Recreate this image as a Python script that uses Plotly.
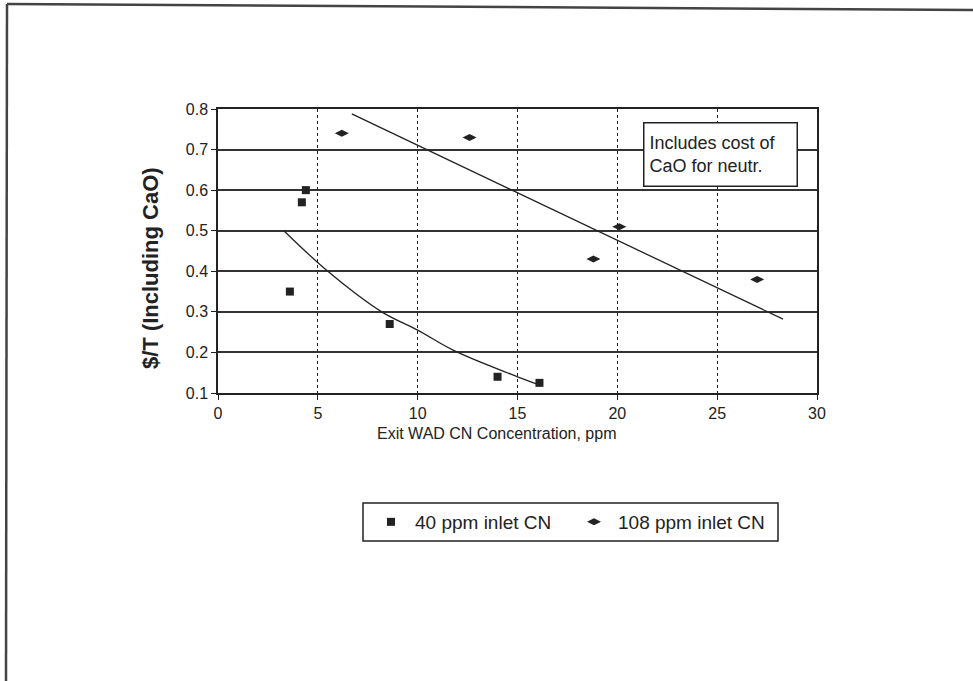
import plotly.graph_objects as go

# Data
x40 = [3.6, 4.2, 4.4, 8.6, 14.0, 16.1]
y40 = [0.35, 0.57, 0.60, 0.27, 0.14, 0.125]
x108 = [6.2, 12.6, 18.8, 20.1, 27.0]
y108 = [0.74, 0.73, 0.43, 0.51, 0.38]

# Trend lines
fit40_x = [3.3, 5.5, 8.2, 10.0, 11.8, 15.0, 16.1]
fit40_y = [0.50, 0.40, 0.30, 0.255, 0.205, 0.14, 0.12]
fit108_x = [6.7, 28.3]
fit108_y = [0.788, 0.282]

x_ticks = [0, 5, 10, 15, 20, 25, 30]
y_ticks = [0.1, 0.2, 0.3, 0.4, 0.5, 0.6, 0.7, 0.8]

W, H = 973, 681
L, R, T, B = 218, 156, 109, 288
pw, ph = W - L - R, H - T - B

def px(xp):
    return (xp - L) / pw

def py(yp):
    return (H - B - yp) / ph

ink = "#222222"
font = "Liberation Sans, Arial, sans-serif"

fig = go.Figure()
fig.add_trace(go.Scatter(x=fit40_x, y=fit40_y, mode="lines", line=dict(color=ink, width=1.3, shape="spline"),
                         showlegend=False, hoverinfo="skip"))
fig.add_trace(go.Scatter(x=fit108_x, y=fit108_y, mode="lines", line=dict(color=ink, width=1.3),
                         showlegend=False, hoverinfo="skip"))
fig.add_trace(go.Scatter(x=x40, y=y40, mode="markers", name="40 ppm inlet CN",
                         marker=dict(symbol="square", size=8, color=ink)))
fig.add_trace(go.Scatter(x=x108, y=y108, mode="markers", name="108 ppm inlet CN",
                         marker=dict(symbol="diamond-wide", size=10, color=ink)))

fig.update_xaxes(range=[0, 30], tickvals=x_ticks, showgrid=True, gridcolor=ink, griddash="dot", gridwidth=1,
                 showline=True, mirror=True, linecolor=ink, linewidth=1.5, ticks="outside", ticklen=5,
                 tickcolor=ink, zeroline=False, tickfont=dict(family=font, size=16, color=ink))
fig.update_yaxes(range=[0.1, 0.8], tickvals=y_ticks, showgrid=True, gridcolor="#333333", gridwidth=1.5,
                 showline=True, mirror=True, linecolor=ink, linewidth=1.5, ticks="outside", ticklen=5,
                 tickcolor=ink, zeroline=False, tickfont=dict(family=font, size=16, color=ink))

fig.add_annotation(xref="paper", yref="paper", x=px(150), y=py(268), text="<b>$/T (Including CaO)</b>",
                   textangle=-90, showarrow=False, font=dict(family=font, size=22, color=ink),
                   xanchor="center", yanchor="middle")
fig.add_annotation(xref="paper", yref="paper", x=px(496), y=py(433), text="Exit WAD CN Concentration, ppm",
                   showarrow=False, font=dict(family=font, size=16, color=ink), xanchor="center", yanchor="middle")
fig.add_annotation(xref="paper", yref="paper", x=px(720.5), y=py(154.5),
                   text="Includes cost of<br>CaO for neutr.", align="left", showarrow=False,
                   font=dict(family=font, size=18, color=ink), bordercolor=ink, borderwidth=1.5,
                   borderpad=5, bgcolor="white", width=142, height=52, xanchor="center", yanchor="middle")

# Legend frame
fig.add_shape(type="rect", xref="paper", yref="paper", x0=px(363), y0=py(503), x1=px(778), y1=py(541),
              line=dict(color=ink, width=1.5))

# Outer frame of the scanned page
fig.add_shape(type="line", xref="paper", yref="paper", x0=px(7), y0=py(4), x1=px(973), y1=py(10),
              line=dict(color="#444444", width=2.5))
fig.add_shape(type="line", xref="paper", yref="paper", x0=px(7), y0=py(4), x1=px(6), y1=py(681),
              line=dict(color="#444444", width=2.5))

fig.update_layout(
    width=W, height=H, margin=dict(l=L, r=R, t=T, b=B),
    paper_bgcolor="white", plot_bgcolor="white",
    showlegend=True,
    legend=dict(orientation="h", x=px(367), y=py(522), xanchor="left", yanchor="middle",
                borderwidth=0, bgcolor="rgba(0,0,0,0)", itemwidth=38,
                font=dict(family=font, size=19, color=ink), entrywidth=150, entrywidthmode="pixels"),
)

fig.write_html("out.html")
